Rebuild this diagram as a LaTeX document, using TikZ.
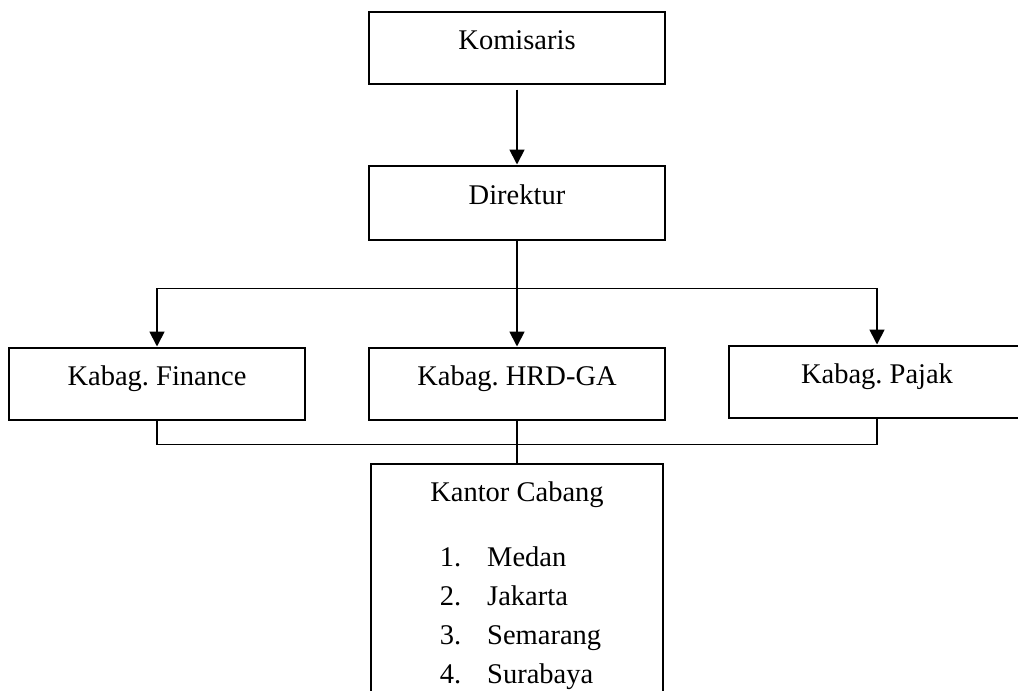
\documentclass[tikz,border=0pt]{standalone}
\usepackage{fontspec}
\setmainfont{Liberation Serif}
\usetikzlibrary{arrows.meta,positioning}
\frenchspacing
\tikzset{
    kotak/.style={
        rectangle,
        draw,
        line width=2pt,
        minimum width=296pt,
        inner sep=0pt
    },
    jabatan/.style={
        kotak,
        minimum height=72pt,
        text height=19pt,
        text depth=16pt
    },
    cabang/.style={
        kotak,
        minimum width=292pt,
        align=center,
        inner ysep=18pt
    },
    panah/.style={-{Triangle[length=15pt,width=15pt]}, line width=1.8pt},
    garis/.style={line width=1.8pt}
}

\begin{document}
\begin{tikzpicture}[x=1pt, y=-1pt, node distance=80pt and 62pt, font=\fontsize{28.5}{39}\selectfont]
    \useasboundingbox (0,0) rectangle (1018,691);
    \clip (0,0) rectangle (1018,691);

    \node[jabatan] (komisaris) at (517,47.5) {Komisaris};
    \node[jabatan, below=of komisaris, minimum height=74pt] (direktur) {Direktur};

    \node[jabatan, below=106pt of direktur] (hrd) {Kabag. HRD-GA};
    \node[jabatan, left=of hrd] (finance) {Kabag. Finance};
    \node[jabatan, right=of hrd, yshift=2pt] (pajak) {Kabag. Pajak};

    \node[cabang, below=42pt of hrd] (kantor)
        {Kantor Cabang\\[26pt]
         \hspace*{7pt}\begin{tabular}[t]{@{}l@{\hspace{26pt}}l@{}}
            1. & Medan\\
            2. & Jakarta\\
            3. & Semarang\\
            4. & Surabaya
         \end{tabular}};

    \coordinate[below=48pt of direktur] (bagi);
    \coordinate[below=24pt of hrd] (gabung);

    \draw[panah, shorten <=5pt] (komisaris) -- (direktur);
    \draw[garis] (direktur) -- (bagi);
    \draw[panah] (bagi) -| (finance.north);
    \draw[panah] (bagi) -- (hrd);
    \draw[panah] (bagi) -| (pajak.north);
    \draw[garis] (finance) |- (gabung) -| (pajak);
    \draw[garis] (hrd) -- (kantor);
\end{tikzpicture}
\end{document}
